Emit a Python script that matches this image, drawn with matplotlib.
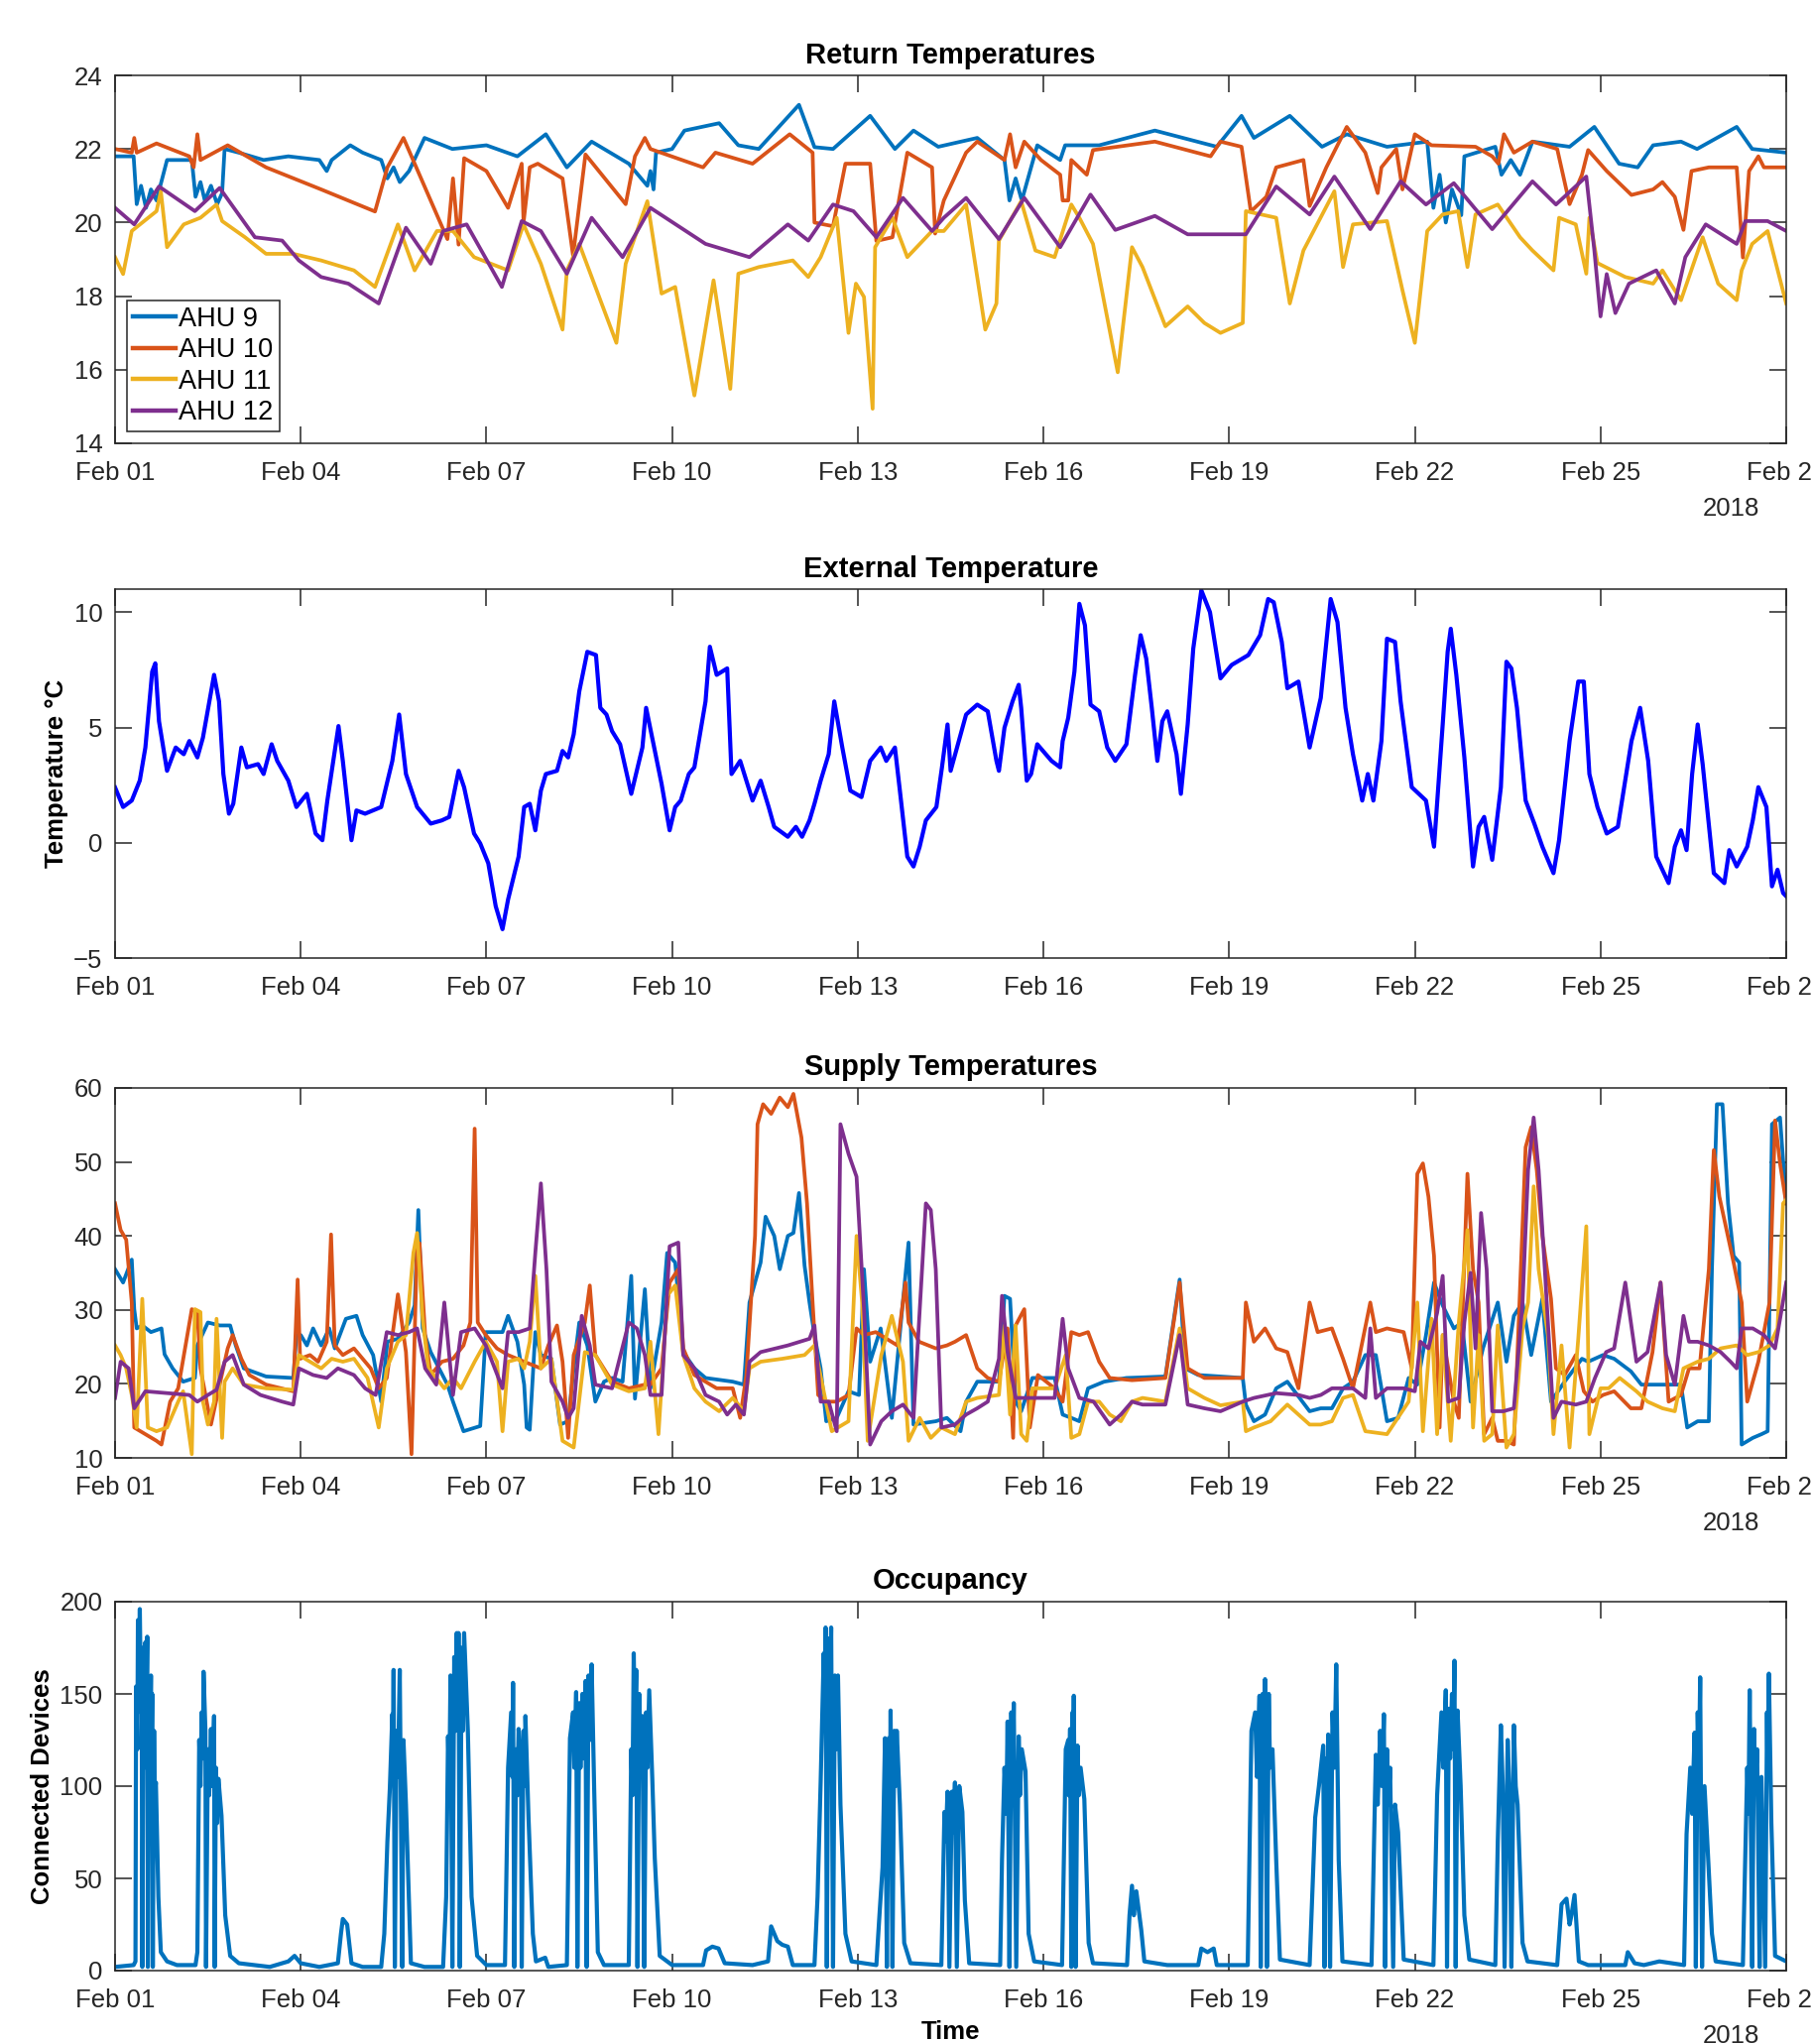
import numpy as np
import matplotlib
matplotlib.use("Agg")
import matplotlib.pyplot as plt
import matplotlib.dates as mdates
from datetime import datetime

plt.rcParams['font.family'] = ['Liberation Sans', 'DejaVu Sans']

# ---- donnees (temps en jours depuis le 1er fevrier 2018) ----
t_ret9 = [0, 0.3, 0.35, 0.42, 0.5, 0.58, 0.67, 0.84, 1.0, 1.24, 1.3, 1.38, 1.45, 1.55, 1.65, 1.73, 1.77, 2.0, 2.4, 2.8,
          3.3, 3.42, 3.5, 3.8, 4.0, 4.3, 4.4, 4.5, 4.6, 4.75, 5.0, 5.45, 6.0, 6.5, 6.96, 7.3, 7.7, 8.3, 8.6, 8.65,
          8.7, 8.74, 9.0, 9.2, 9.76, 10.07, 10.4, 11.05, 11.3, 11.6, 12.2, 12.6, 12.9, 13.3, 13.93, 14.37, 14.45,
          14.55, 14.65, 14.9, 15.27, 15.35, 15.9, 16.8, 17.8, 18.2, 18.4, 18.98, 19.5, 19.9, 20.55, 21.2, 21.3,
          21.4, 21.5, 21.6, 21.75, 21.8, 22.3, 22.4, 22.55, 22.7, 22.9, 23.5, 23.9, 24.3, 24.6, 24.85, 25.3,
          25.56, 26.2, 26.45, 27.0]
ahu9_ret = [21.8, 21.8, 20.5, 21.0, 20.4, 20.9, 20.6, 21.7, 21.7, 21.7, 20.7, 21.1, 20.6, 21.0, 20.5, 20.8, 22.0,
            21.9, 21.7, 21.8, 21.7, 21.4, 21.7, 22.1, 21.9, 21.7, 21.2, 21.5, 21.1, 21.4, 22.3, 22.0, 22.1, 21.8,
            22.4, 21.5, 22.2, 21.6, 21.0, 21.4, 20.9, 21.9, 22.0, 22.5, 22.7, 22.1, 22.0, 23.2, 22.05, 22.0, 22.9,
            22.0, 22.5, 22.06, 22.3, 21.7, 20.6, 21.2, 20.6, 22.1, 21.7, 22.1, 22.1, 22.5, 22.06, 22.9, 22.3, 22.9,
            22.06, 22.4, 22.06, 22.2, 20.4, 21.3, 20.0, 20.9, 20.2, 21.8, 22.06, 21.3, 21.7, 21.3, 22.2, 22.06,
            22.6, 21.6, 21.5, 22.1, 22.2, 22.0, 22.6, 22.0, 21.9]

t_ret10 = [0, 0.27, 0.31, 0.35, 0.67, 1.2, 1.27, 1.33, 1.38, 1.82, 2.44, 3.33, 4.2, 4.4, 4.66, 5.37, 5.46, 5.55,
           5.64, 6.0, 6.35, 6.57, 6.6, 6.7, 6.83, 7.23, 7.4, 7.6, 8.25, 8.4, 8.56, 8.65, 9.5, 9.7, 10.3, 10.9,
           11.27, 11.3, 11.6, 11.8, 12.2, 12.3, 12.56, 12.8, 13.2, 13.25, 13.39, 13.75, 13.93, 14.37, 14.46, 14.55,
           14.69, 14.96, 15.27, 15.31, 15.4, 15.45, 15.7, 15.8, 16.8, 17.7, 17.86, 18.2, 18.35, 18.6, 18.76, 19.2,
           19.3, 19.57, 19.9, 20.2, 20.4, 20.46, 20.7, 20.8, 21.0, 21.27, 21.98, 22.25, 22.35, 22.44, 22.6, 22.9,
           23.3, 23.5, 23.7, 23.8, 24.1, 24.5, 24.85, 25.0, 25.2, 25.34, 25.47, 25.75, 26.2, 26.3, 26.4, 26.55,
           26.64, 27.0]
ahu10_ret = [22.0, 21.9, 22.3, 21.9, 22.15, 21.8, 21.5, 22.4, 21.7, 22.1, 21.5, 20.9, 20.3, 21.5, 22.3, 19.55,
             21.2, 19.4, 21.75, 21.4, 20.4, 21.6, 20.0, 21.5, 21.6, 21.2, 19.1, 21.85, 20.5, 21.8, 22.3, 22.0, 21.5,
             21.9, 21.6, 22.4, 21.9, 20.0, 19.9, 21.6, 21.6, 19.5, 19.6, 21.9, 21.5, 19.7, 20.6, 21.9, 22.2, 21.7,
             22.4, 21.5, 22.2, 21.7, 21.3, 20.6, 20.6, 21.7, 21.3, 21.97, 22.2, 21.8, 22.2, 22.06, 20.3, 20.7, 21.5,
             21.7, 20.45, 21.5, 22.6, 21.9, 20.8, 21.5, 22.0, 20.9, 22.4, 22.1, 22.06, 21.8, 21.6, 22.4, 21.9, 22.2,
             22.0, 20.5, 21.3, 21.97, 21.4, 20.75, 20.9, 21.1, 20.7, 19.8, 21.4, 21.5, 21.5, 19.05, 21.4, 21.8,
             21.5, 21.5]

t_ret11 = [0, 0.13, 0.27, 0.67, 0.74, 0.84, 1.11, 1.38, 1.64, 1.73, 2.1, 2.44, 2.88, 3.33, 3.86, 4.2, 4.57, 4.84,
           5.2, 5.46, 5.8, 6.35, 6.6, 6.88, 7.23, 7.3, 7.5, 8.1, 8.25, 8.6, 8.83, 9.05, 9.36, 9.67, 9.94, 10.07,
           10.4, 10.95, 11.2, 11.4, 11.66, 11.85, 11.97, 12.1, 12.24, 12.28, 12.56, 12.8, 13.2, 13.39, 13.75, 14.06,
           14.24, 14.28, 14.64, 14.87, 15.18, 15.45, 15.58, 15.8, 16.2, 16.43, 16.6, 16.97, 17.33, 17.6, 17.86,
           18.22, 18.27, 18.76, 18.98, 19.2, 19.7, 19.84, 20.0, 20.55, 20.8, 21.0, 21.2, 21.45, 21.7, 21.85, 21.98,
           22.34, 22.7, 22.9, 23.24, 23.33, 23.6, 23.77, 23.82, 23.95, 24.4, 24.85, 25.0, 25.3, 25.65, 25.9, 26.2,
           26.28, 26.45, 26.7, 27.0]
ahu11_ret = [19.06, 18.6, 19.77, 20.31, 20.85, 19.33, 19.95, 20.13, 20.49, 20.04, 19.6, 19.15, 19.15, 18.97, 18.7,
             18.25, 19.95, 18.7, 19.77, 19.77, 19.06, 18.7, 19.95, 18.88, 17.09, 18.7, 19.42, 16.73, 18.88, 20.58,
             18.07, 18.25, 15.3, 18.43, 15.48, 18.61, 18.79, 18.97, 18.52, 19.06, 20.13, 17.0, 18.34, 17.98, 14.94,
             19.33, 20.13, 19.06, 19.77, 19.77, 20.49, 17.09, 17.8, 19.51, 20.58, 19.24, 19.06, 20.49, 20.13, 19.42,
             15.93, 19.33, 18.79, 17.18, 17.72, 17.27, 17.0, 17.27, 20.31, 20.13, 17.8, 19.24, 20.85, 18.79, 19.95,
             20.04, 18.16, 16.73, 19.77, 20.22, 20.31, 18.79, 20.22, 20.49, 19.6, 19.24, 18.7, 20.13, 19.95, 18.61,
             20.13, 18.9, 18.52, 18.34, 18.7, 17.89, 19.6, 18.34, 17.89, 18.7, 19.42, 19.77, 17.8]

t_ret12 = [0, 0.31, 0.71, 1.29, 1.69, 2.26, 2.7, 2.97, 3.33, 3.77, 4.26, 4.7, 5.1, 5.3, 5.68, 6.25, 6.57, 6.88, 7.3,
           7.7, 8.2, 8.65, 9.54, 10.25, 10.87, 11.2, 11.6, 11.93, 12.3, 12.73, 13.2, 13.39, 13.75, 14.28, 14.69,
           15.27, 15.76, 16.16, 16.8, 17.33, 18.27, 18.76, 19.3, 19.7, 20.28, 20.77, 21.18, 21.63, 22.25, 22.9,
           23.28, 23.77, 23.9, 24.0, 24.1, 24.24, 24.46, 24.9, 25.2, 25.37, 25.7, 26.2, 26.34, 26.7, 27.0]
ahu12_ret = [20.4, 19.95, 20.98, 20.31, 20.94, 19.6, 19.51, 18.97, 18.52, 18.34, 17.8, 19.86, 18.88, 19.77, 19.95,
             18.25, 20.04, 19.77, 18.61, 20.13, 19.06, 20.4, 19.42, 19.06, 19.95, 19.51, 20.49, 20.31, 19.6, 20.67,
             19.77, 20.13, 20.67, 19.55, 20.67, 19.33, 20.76, 19.8, 20.18, 19.68, 19.68, 20.98, 20.22, 21.25, 19.82,
             21.12, 20.49, 21.07, 19.82, 21.12, 20.49, 21.25, 19.24, 17.45, 18.6, 17.54, 18.34, 18.7, 17.8, 19.06,
             19.95, 19.42, 20.04, 20.04, 19.77]

t_ext = [0, 0.13, 0.27, 0.4, 0.49, 0.6, 0.65, 0.71, 0.84, 0.98, 1.11, 1.2, 1.33, 1.42, 1.6, 1.68, 1.75, 1.84, 1.91,
         2.04, 2.13, 2.31, 2.4, 2.53, 2.62, 2.8, 2.93, 3.1, 3.24, 3.35, 3.43, 3.61, 3.68, 3.82, 3.9, 4.04, 4.3, 4.48,
         4.59, 4.7, 4.88, 5.1, 5.28, 5.4, 5.55, 5.64, 5.8, 5.9, 6.03, 6.15, 6.26, 6.35, 6.52, 6.61, 6.7, 6.79, 6.88,
         6.96, 7.14, 7.23, 7.32, 7.41, 7.5, 7.63, 7.77, 7.84, 7.94, 8.03, 8.16, 8.34, 8.52, 8.58, 8.7, 8.83, 8.96,
         9.05, 9.14, 9.27, 9.36, 9.54, 9.61, 9.72, 9.89, 9.96, 10.1, 10.3, 10.43, 10.56, 10.65, 10.87, 11.0, 11.1,
         11.22, 11.3, 11.4, 11.53, 11.62, 11.75, 11.88, 12.06, 12.2, 12.37, 12.46, 12.6, 12.68, 12.8, 12.9, 13.0,
         13.1, 13.27, 13.36, 13.45, 13.5, 13.75, 13.93, 14.1, 14.24, 14.28, 14.37, 14.5, 14.6, 14.64, 14.73, 14.8,
         14.9, 15.13, 15.27, 15.31, 15.4, 15.5, 15.58, 15.67, 15.76, 15.9, 16.03, 16.16, 16.34, 16.48, 16.57, 16.66,
         16.75, 16.84, 16.92, 17.0, 17.15, 17.22, 17.33, 17.42, 17.55, 17.69, 17.86, 18.04, 18.31, 18.5, 18.63,
         18.72, 18.85, 18.94, 19.12, 19.3, 19.48, 19.64, 19.75, 19.88, 20.0, 20.15, 20.24, 20.33, 20.46, 20.55,
         20.68, 20.77, 20.95, 21.18, 21.31, 21.45, 21.53, 21.58, 21.67, 21.8, 21.94, 22.03, 22.12, 22.25, 22.39,
         22.48, 22.56, 22.65, 22.79, 22.93, 23.06, 23.24, 23.33, 23.5, 23.64, 23.73, 23.82, 23.95, 24.1, 24.28,
         24.5, 24.64, 24.77, 24.9, 25.1, 25.2, 25.3, 25.39, 25.48, 25.57, 25.65, 25.83, 26.0, 26.08, 26.2, 26.37,
         26.46, 26.55, 26.68, 26.77, 26.86, 26.95, 27.0]
ext_temp = [2.4, 1.55, 1.83, 2.7, 4.13, 7.42, 7.78, 5.27, 3.12, 4.13, 3.84, 4.41, 3.7, 4.56, 7.28, 6.13, 2.98, 1.26,
            1.69, 4.13, 3.27, 3.41, 2.98, 4.27, 3.55, 2.69, 1.55, 2.12, 0.4, 0.11, 1.83, 5.06, 3.55, 0.11, 1.4, 1.26,
            1.55, 3.55, 5.56, 2.98, 1.55, 0.83, 0.97, 1.12, 3.12, 2.4, 0.4, -0.03, -0.89, -2.75, -3.75, -2.46, -0.6,
            1.55, 1.69, 0.54, 2.26, 2.98, 3.12, 3.98, 3.7, 4.7, 6.56, 8.28, 8.14, 5.85, 5.56, 4.84, 4.27, 2.12, 4.13,
            5.85, 4.27, 2.55, 0.54, 1.55, 1.83, 2.98, 3.27, 6.13, 8.5, 7.28, 7.56, 2.98, 3.55, 1.83, 2.69, 1.55, 0.69,
            0.26, 0.69, 0.26, 0.97, 1.69, 2.69, 3.84, 6.13, 4.13, 2.26, 1.98, 3.55, 4.13, 3.55, 4.13, 2.26, -0.6,
            -1.03, -0.17, 0.97, 1.55, 3.27, 5.13, 3.12, 5.56, 5.99, 5.7, 3.55, 3.12, 4.99, 6.13, 6.85, 5.85, 2.69,
            2.98, 4.27, 3.55, 3.27, 4.41, 5.42, 7.42, 10.36, 9.43, 5.99, 5.7, 4.13, 3.55, 4.27, 7.28, 9.0, 7.99, 5.85,
            3.55, 5.27, 5.7, 3.84, 2.12, 5.13, 8.42, 10.95, 10.0, 7.13, 7.71, 8.14, 9.0, 10.57, 10.43, 8.71, 6.7,
            6.99, 4.13, 6.28, 10.57, 9.57, 5.85, 3.84, 1.83, 2.98, 1.83, 4.41, 8.85, 8.71, 6.13, 2.41, 1.83, -0.17,
            5.13, 8.28, 9.28, 7.28, 3.7, -1.03, 0.69, 1.12, -0.74, 2.41, 7.85, 7.56, 5.85, 1.83, 0.83, -0.17, -1.32,
            0.11, 4.41, 6.99, 6.99, 2.98, 1.55, 0.4, 0.69, 4.41, 5.85, 3.55, -0.6, -1.75, -0.17, 0.54, -0.32, 2.98,
            5.13, 3.41, -1.32, -1.75, -0.32, -1.03, -0.17, 0.97, 2.41, 1.55, -1.89, -1.17, -2.18, -2.32]

sup9 = [(0, 35.5), (0.13, 33.7), (0.27, 36.8), (0.31, 30.1), (0.35, 27.5), (0.44, 27.9), (0.58, 27.0), (0.75, 27.5),
        (0.8, 24.0), (0.93, 22.1), (1.1, 20.3), (1.29, 20.8), (1.33, 25.2), (1.5, 28.3), (1.69, 27.9), (1.86, 27.9),
        (1.95, 25.2), (2.08, 22.1), (2.44, 21.0), (2.88, 20.8), (2.93, 26.6), (3.0, 26.6), (3.1, 25.2), (3.2, 27.5),
        (3.33, 25.2), (3.46, 27.5), (3.55, 24.8), (3.73, 28.8), (3.9, 29.2), (4.0, 26.6), (4.17, 23.9), (4.3, 17.6),
        (4.4, 25.7), (4.57, 26.1), (4.75, 28.3), (4.84, 30.6), (4.9, 43.5), (4.97, 27.5), (5.1, 24.3), (5.37, 19.9),
        (5.46, 17.6), (5.63, 13.6), (5.9, 14.3), (5.99, 27.0), (6.26, 27.0), (6.35, 29.2), (6.5, 25.7), (6.61, 19.9),
        (6.65, 14.1), (6.7, 13.8), (6.79, 27.0), (6.88, 23.9), (7.05, 23.4), (7.19, 14.5), (7.32, 14.95), (7.41, 22.1),
        (7.5, 28.3), (7.63, 25.2), (7.76, 17.6), (7.9, 20.3), (8.03, 20.8), (8.2, 20.3), (8.34, 34.6), (8.4, 18.0),
        (8.56, 32.8), (8.65, 19.4), (8.83, 28.3), (8.92, 37.7), (9.05, 36.4), (9.18, 24.3), (9.36, 22.1), (9.54, 20.8),
        (9.98, 20.3), (10.16, 19.9), (10.25, 31.0), (10.43, 36.4), (10.51, 42.6), (10.65, 40.0), (10.74, 35.5),
        (10.87, 40.0), (10.96, 40.4), (11.05, 45.8), (11.14, 36.0), (11.22, 31.0), (11.3, 26.6), (11.4, 22.1),
        (11.49, 14.95), (11.66, 15.4), (11.85, 19.0), (12.02, 18.5), (12.1, 35.5), (12.2, 23.0), (12.37, 27.5),
        (12.55, 15.4), (12.82, 39.1), (12.9, 14.5), (13.26, 14.95), (13.44, 15.4), (13.66, 13.6), (13.75, 17.6),
        (13.93, 20.3), (14.28, 20.3), (14.37, 31.9), (14.46, 31.5), (14.55, 17.6), (14.64, 16.3), (14.82, 20.8),
        (15.18, 20.8), (15.31, 15.85), (15.45, 15.4), (15.58, 14.95), (15.72, 19.4), (15.98, 20.3), (16.34, 20.8),
        (16.97, 21.0), (17.2, 34.1), (17.29, 22.1), (17.5, 21.2), (18.22, 20.8), (18.27, 17.2), (18.4, 14.95),
        (18.58, 15.85), (18.76, 19.4), (18.94, 20.3), (19.3, 16.3), (19.48, 16.7), (19.66, 16.7), (19.84, 19.4),
        (20.0, 20.3), (20.2, 23.9), (20.37, 23.9), (20.55, 14.95), (20.73, 15.4), (20.9, 20.8), (21.04, 19.9),
        (21.18, 26.6), (21.31, 33.7), (21.45, 30.6), (21.63, 27.5), (21.76, 28.3), (21.9, 17.6), (22.1, 24.8),
        (22.34, 31.0), (22.48, 23.0), (22.6, 29.2), (22.74, 31.0), (22.88, 23.9), (23.06, 31.5), (23.2, 17.6),
        (23.42, 20.3), (23.7, 23.4), (23.8, 23.0), (24.04, 23.9), (24.22, 23.4), (24.49, 21.7), (24.66, 19.9),
        (25.0, 19.9), (25.3, 19.9), (25.4, 14.1), (25.57, 14.95), (25.75, 14.95), (25.8, 35.5), (25.88, 57.8),
        (25.97, 57.8), (26.06, 44.4), (26.15, 37.3), (26.24, 36.4), (26.28, 11.8), (26.46, 12.7), (26.6, 13.2),
        (26.7, 13.6), (26.77, 55.1), (26.9, 56.0), (27.0, 44.4)]

sup10 = [(0, 44.4), (0.09, 40.8), (0.18, 39.5), (0.27, 31.0), (0.31, 14.1), (0.49, 13.2), (0.67, 12.3), (0.75, 11.8),
         (0.89, 17.6), (1.02, 19.4), (1.24, 30.1), (1.33, 29.7), (1.38, 22.1), (1.55, 14.5), (1.69, 19.9), (1.82, 24.8),
         (1.9, 26.6), (2.04, 23.4), (2.17, 21.2), (2.44, 19.9), (2.88, 19.0), (2.95, 34.1), (2.99, 23.4), (3.15, 23.9),
         (3.28, 23.0), (3.42, 25.7), (3.49, 40.2), (3.55, 25.2), (3.68, 23.9), (3.86, 24.8), (4.13, 22.1), (4.26, 19.4),
         (4.39, 20.8), (4.57, 32.1), (4.7, 24.3), (4.79, 10.5), (4.88, 39.0), (4.92, 39.0), (5.01, 26.6), (5.1, 21.2),
         (5.28, 23.0), (5.46, 23.4), (5.63, 25.2), (5.74, 28.3), (5.81, 54.5), (5.86, 28.3), (5.99, 26.6),
         (6.17, 24.8), (6.35, 23.9), (6.61, 23.0), (6.88, 22.1), (7.0, 25.2), (7.14, 27.9), (7.23, 23.0), (7.32, 12.7),
         (7.41, 23.9), (7.59, 28.3), (7.67, 33.3), (7.76, 23.9), (8.03, 20.3), (8.3, 19.4), (8.56, 19.9), (8.65, 19.9),
         (8.83, 22.1), (8.96, 33.7), (9.1, 35.5), (9.18, 24.8), (9.36, 21.2), (9.72, 19.4), (9.98, 19.4), (10.1, 15.4),
         (10.2, 21.2), (10.34, 40.0), (10.38, 55.1), (10.47, 57.8), (10.6, 56.5), (10.74, 58.7), (10.87, 57.4),
         (10.96, 59.2), (11.09, 53.3), (11.18, 44.4), (11.27, 31.0), (11.36, 18.5), (11.49, 17.6), (11.66, 17.6),
         (11.85, 18.5), (11.98, 27.5), (12.1, 26.6), (12.29, 27.0), (12.64, 25.2), (12.77, 33.7), (12.82, 28.3),
         (12.99, 25.7), (13.26, 24.8), (13.44, 25.2), (13.57, 25.7), (13.75, 26.6), (13.93, 22.1), (14.1, 20.8),
         (14.28, 20.3), (14.42, 27.5), (14.51, 12.7), (14.55, 27.9), (14.69, 30.1), (14.78, 14.1), (14.91, 21.2),
         (15.18, 19.4), (15.31, 17.6), (15.45, 27.0), (15.58, 26.6), (15.72, 27.0), (15.9, 23.0), (16.07, 20.8),
         (16.43, 20.5), (16.97, 20.8), (17.2, 33.7), (17.33, 22.1), (17.6, 20.8), (18.22, 20.8), (18.27, 31.0),
         (18.4, 25.7), (18.58, 27.5), (18.76, 24.8), (18.94, 24.3), (19.12, 19.4), (19.3, 31.0), (19.43, 27.0),
         (19.66, 27.5), (19.84, 23.4), (20.0, 19.4), (20.28, 31.0), (20.37, 27.0), (20.55, 27.5), (20.82, 27.0),
         (20.95, 22.1), (21.04, 48.4), (21.13, 49.8), (21.22, 45.3), (21.31, 37.3), (21.4, 14.1), (21.45, 26.6),
         (21.63, 17.6), (21.71, 15.4), (21.85, 48.4), (21.94, 35.5), (22.03, 31.0), (22.12, 13.2), (22.25, 15.4),
         (22.34, 12.3), (22.48, 12.3), (22.6, 11.8), (22.79, 52.0), (22.88, 54.7), (22.97, 48.9), (23.06, 40.0),
         (23.2, 31.5), (23.28, 22.1), (23.42, 21.2), (23.6, 23.9), (23.73, 19.0), (23.87, 17.6), (24.04, 18.5),
         (24.22, 19.0), (24.49, 16.7), (24.66, 16.7), (24.84, 24.3), (24.97, 33.7), (25.1, 17.6), (25.3, 18.5),
         (25.43, 22.1), (25.6, 22.1), (25.75, 35.5), (25.83, 51.6), (25.92, 45.3), (26.0, 42.2), (26.15, 36.4),
         (26.28, 31.0), (26.37, 17.6), (26.55, 23.0), (26.73, 31.0), (26.82, 55.6), (26.9, 49.8), (27.0, 44.4)]

sup11 = [(0, 25.2), (0.09, 23.9), (0.18, 22.1), (0.27, 18.5), (0.35, 14.1), (0.44, 31.5), (0.53, 14.1), (0.67, 13.6),
         (0.84, 14.1), (1.02, 17.6), (1.1, 19.0), (1.24, 10.5), (1.29, 30.1), (1.38, 29.7), (1.42, 17.6), (1.5, 14.5),
         (1.6, 17.6), (1.64, 28.8), (1.73, 12.7), (1.77, 20.3), (1.9, 22.1), (2.08, 19.9), (2.44, 19.4), (2.88, 19.2),
         (2.97, 23.9), (3.15, 23.0), (3.33, 22.1), (3.5, 23.4), (3.68, 23.0), (3.86, 23.4), (4.08, 20.8), (4.26, 14.1),
         (4.39, 22.1), (4.57, 25.7), (4.7, 26.6), (4.82, 37.7), (4.88, 40.4), (4.97, 28.8), (5.06, 22.1), (5.19, 20.8),
         (5.32, 19.4), (5.46, 20.8), (5.59, 19.4), (5.81, 23.0), (5.99, 25.7), (6.17, 23.0), (6.26, 13.6), (6.35, 23.0),
         (6.52, 23.4), (6.61, 22.1), (6.7, 25.7), (6.79, 34.6), (6.88, 22.1), (7.05, 23.4), (7.23, 12.3), (7.41, 11.4),
         (7.59, 24.3), (7.76, 23.9), (8.03, 19.9), (8.3, 19.0), (8.56, 19.4), (8.65, 25.7), (8.78, 13.2), (8.92, 31.9),
         (9.05, 33.3), (9.18, 23.9), (9.36, 19.4), (9.54, 17.6), (9.76, 16.3), (9.98, 18.1), (10.16, 16.3),
         (10.25, 22.1), (10.43, 23.0), (10.78, 23.4), (11.14, 23.9), (11.3, 25.2), (11.58, 13.6), (11.85, 14.95),
         (11.98, 40.0), (12.07, 31.0), (12.16, 12.3), (12.38, 23.9), (12.55, 29.2), (12.73, 23.0), (12.82, 12.3),
         (13.0, 15.4), (13.18, 12.7), (13.35, 14.1), (13.57, 13.2), (13.75, 17.6), (13.93, 18.1), (14.28, 18.5),
         (14.37, 27.9), (14.46, 15.85), (14.55, 27.9), (14.64, 13.2), (14.73, 12.3), (14.82, 19.4), (15.18, 19.4),
         (15.36, 23.9), (15.45, 12.7), (15.58, 13.2), (15.72, 17.6), (15.9, 17.6), (16.07, 15.85), (16.25, 14.95),
         (16.43, 17.6), (16.6, 18.1), (16.97, 17.6), (17.2, 27.5), (17.33, 19.4), (17.6, 18.1), (17.86, 17.1),
         (18.22, 17.6), (18.27, 13.6), (18.4, 14.1), (18.67, 14.95), (18.94, 17.2), (19.3, 14.5), (19.48, 14.5),
         (19.66, 14.95), (19.84, 18.1), (20.0, 18.5), (20.2, 13.6), (20.55, 13.2), (20.9, 17.6), (21.04, 31.0),
         (21.13, 13.6), (21.27, 28.8), (21.36, 13.2), (21.45, 26.6), (21.58, 12.3), (21.71, 28.3), (21.85, 40.8),
         (21.94, 14.1), (22.03, 26.6), (22.12, 12.3), (22.25, 13.2), (22.34, 27.9), (22.48, 11.4), (22.6, 13.2),
         (22.74, 27.5), (22.83, 31.0), (22.92, 46.7), (23.0, 35.5), (23.15, 26.6), (23.24, 13.2), (23.37, 25.2),
         (23.5, 11.4), (23.64, 26.1), (23.77, 41.3), (23.82, 13.2), (24.0, 19.4), (24.13, 19.4), (24.31, 20.8),
         (24.58, 19.0), (24.76, 17.6), (25.0, 16.7), (25.2, 16.3), (25.34, 22.1), (25.57, 23.0), (25.75, 23.4),
         (25.94, 24.8), (26.2, 25.2), (26.37, 23.9), (26.55, 24.3), (26.73, 25.2), (26.86, 27.5), (26.95, 44.4),
         (27.0, 44.9)]

sup12 = [(0, 18.1), (0.09, 23.0), (0.22, 22.1), (0.31, 16.7), (0.49, 19.0), (0.84, 18.75), (1.2, 18.5), (1.33, 17.6),
         (1.5, 18.5), (1.64, 19.2), (1.77, 23.0), (1.9, 23.9), (2.08, 19.9), (2.35, 18.5), (2.7, 17.6), (2.88, 17.2),
         (2.97, 22.1), (3.2, 21.2), (3.42, 20.8), (3.6, 22.1), (3.86, 21.2), (4.04, 19.4), (4.21, 18.5), (4.39, 27.0),
         (4.57, 26.6), (4.75, 27.0), (4.88, 27.5), (5.01, 22.1), (5.19, 19.9), (5.32, 31.0), (5.46, 18.5),
         (5.59, 27.0), (5.81, 27.5), (5.99, 25.2), (6.26, 19.4), (6.35, 27.0), (6.52, 27.0), (6.7, 27.5), (6.79, 37.7),
         (6.88, 47.1), (6.97, 35.5), (7.05, 20.3), (7.23, 17.6), (7.32, 15.4), (7.41, 16.7), (7.54, 29.2),
         (7.67, 25.2), (7.76, 19.9), (8.03, 19.4), (8.3, 28.3), (8.43, 27.5), (8.56, 23.9), (8.65, 18.5), (8.83, 18.5),
         (8.96, 38.6), (9.1, 39.1), (9.18, 23.9), (9.36, 22.1), (9.54, 18.5), (9.76, 17.6), (9.89, 15.85),
         (10.03, 17.2), (10.16, 15.85), (10.25, 23.0), (10.43, 24.3), (10.87, 25.2), (11.22, 26.1), (11.3, 27.9),
         (11.4, 17.6), (11.53, 17.6), (11.66, 13.6), (11.72, 55.1), (11.85, 51.1), (11.98, 48.0), (12.1, 30.1),
         (12.2, 11.8), (12.38, 14.95), (12.55, 16.3), (12.73, 17.2), (12.9, 15.4), (13.1, 44.4), (13.18, 43.5),
         (13.26, 35.5), (13.35, 14.1), (13.57, 14.5), (13.75, 15.85), (13.93, 16.7), (14.1, 17.6), (14.28, 23.4),
         (14.33, 31.9), (14.42, 24.3), (14.55, 18.1), (14.73, 18.1), (15.18, 18.1), (15.31, 28.8), (15.4, 22.1),
         (15.58, 18.1), (15.81, 17.6), (16.07, 14.5), (16.25, 15.85), (16.43, 17.6), (16.6, 17.2), (16.97, 17.2),
         (17.2, 26.6), (17.33, 17.2), (17.6, 16.7), (17.86, 16.3), (18.22, 17.6), (18.4, 18.1), (18.76, 18.75),
         (19.12, 18.5), (19.3, 18.1), (19.48, 18.5), (19.66, 19.4), (20.0, 19.4), (20.2, 18.1), (20.28, 27.5),
         (20.37, 18.1), (20.55, 19.4), (20.82, 19.4), (21.0, 19.0), (21.09, 25.7), (21.22, 24.8), (21.36, 29.6),
         (21.45, 34.6), (21.54, 17.6), (21.71, 18.1), (21.8, 28.3), (21.9, 35.0), (21.98, 24.8), (22.07, 43.1),
         (22.16, 35.5), (22.25, 16.3), (22.43, 16.3), (22.6, 16.7), (22.74, 31.0), (22.83, 48.9), (22.92, 56.0),
         (23.0, 48.9), (23.1, 35.5), (23.24, 15.4), (23.37, 17.6), (23.6, 17.2), (23.77, 17.6), (23.91, 20.8),
         (24.09, 24.3), (24.22, 24.8), (24.4, 33.7), (24.58, 23.0), (24.76, 24.3), (24.97, 33.7), (25.06, 23.9),
         (25.2, 19.9), (25.34, 29.2), (25.43, 25.7), (25.57, 25.7), (25.75, 25.2), (25.94, 24.3), (26.1, 23.0),
         (26.2, 22.1), (26.28, 27.5), (26.46, 27.5), (26.64, 26.6), (26.82, 24.8), (27.0, 33.7)]

occupancy = [(0, 2), (0.3, 3), (0.33, 5), (0.34, 154), (0.36, 120), (0.37, 190), (0.38, 150), (0.4, 196),
             (0.42, 140), (0.43, 175), (0.44, 2), (0.46, 150), (0.47, 110), (0.49, 178), (0.5, 130), (0.52, 181),
             (0.53, 2), (0.55, 155), (0.56, 120), (0.58, 160), (0.59, 115), (0.6, 150), (0.61, 2), (0.63, 130),
             (0.64, 95), (0.66, 102), (0.7, 40), (0.74, 10), (0.84, 5), (1.0, 3), (1.3, 3), (1.33, 10), (1.36, 125),
             (1.38, 100), (1.4, 140), (1.42, 115), (1.43, 162), (1.46, 130), (1.47, 2), (1.5, 120), (1.52, 95),
             (1.55, 131), (1.57, 100), (1.6, 138), (1.61, 2), (1.63, 110), (1.65, 80), (1.67, 104), (1.72, 84),
             (1.78, 30), (1.86, 8), (2.0, 4), (2.5, 2), (2.8, 5), (2.9, 8), (3.0, 4), (3.3, 2), (3.6, 4), (3.65, 20),
             (3.68, 28), (3.75, 25), (3.82, 4), (4.0, 2), (4.3, 2), (4.35, 20), (4.4, 70), (4.44, 99), (4.48, 139),
             (4.49, 110), (4.5, 163), (4.52, 2), (4.55, 130), (4.57, 105), (4.6, 163), (4.64, 2), (4.66, 125),
             (4.7, 90), (4.78, 4), (5.0, 2), (5.3, 2), (5.35, 40), (5.38, 127), (5.4, 100), (5.42, 160), (5.45, 2),
             (5.48, 170), (5.5, 130), (5.52, 183), (5.54, 140), (5.55, 183), (5.57, 2), (5.6, 175), (5.62, 130),
             (5.64, 183), (5.7, 130), (5.76, 40), (5.85, 8), (6.0, 3), (6.3, 3), (6.35, 110), (6.4, 140),
             (6.42, 105), (6.43, 156), (6.45, 2), (6.48, 120), (6.5, 95), (6.52, 131), (6.56, 111), (6.57, 2),
             (6.6, 130), (6.62, 100), (6.63, 138), (6.68, 83), (6.75, 20), (6.8, 5), (6.95, 7), (7.0, 2), (7.3, 3),
             (7.35, 126), (7.4, 140), (7.42, 110), (7.45, 151), (7.47, 2), (7.5, 145), (7.52, 110), (7.55, 150),
             (7.57, 115), (7.6, 157), (7.62, 2), (7.65, 160), (7.67, 125), (7.7, 166), (7.74, 100), (7.8, 10),
             (7.9, 3), (8.3, 3), (8.34, 120), (8.36, 95), (8.38, 172), (8.4, 130), (8.42, 163), (8.44, 2),
             (8.47, 150), (8.49, 115), (8.52, 138), (8.55, 2), (8.58, 140), (8.6, 110), (8.63, 152), (8.68, 104),
             (8.72, 61), (8.8, 8), (9.0, 3), (9.5, 3), (9.55, 11), (9.65, 13), (9.75, 12), (9.85, 4), (10.3, 3),
             (10.55, 5), (10.6, 24), (10.7, 16), (10.78, 14), (10.87, 13), (10.95, 3), (11.3, 3), (11.35, 40),
             (11.4, 102), (11.45, 172), (11.46, 140), (11.48, 186), (11.5, 2), (11.53, 180), (11.55, 140),
             (11.57, 186), (11.6, 2), (11.63, 160), (11.65, 120), (11.68, 160), (11.72, 90), (11.8, 20), (11.9, 5),
             (12.3, 3), (12.35, 30), (12.4, 56), (12.44, 126), (12.47, 2), (12.5, 126), (12.52, 95), (12.53, 141),
             (12.56, 2), (12.59, 130), (12.61, 100), (12.63, 130), (12.68, 90), (12.75, 15), (12.85, 4), (13.35, 3),
             (13.4, 86), (13.42, 70), (13.45, 97), (13.48, 2), (13.52, 97), (13.54, 75), (13.57, 102), (13.6, 2),
             (13.64, 100), (13.69, 86), (13.73, 38), (13.8, 4), (14.3, 3), (14.33, 60), (14.37, 110), (14.4, 85),
             (14.42, 135), (14.45, 2), (14.48, 140), (14.5, 105), (14.52, 145), (14.56, 2), (14.6, 127), (14.62, 95),
             (14.65, 120), (14.71, 108), (14.76, 20), (14.85, 5), (15.3, 3), (15.36, 120), (15.4, 125), (15.41, 95),
             (15.43, 131), (15.45, 2), (15.47, 140), (15.48, 110), (15.49, 149), (15.52, 2), (15.55, 122),
             (15.57, 95), (15.6, 110), (15.66, 93), (15.73, 15), (15.8, 4), (16.35, 3), (16.39, 30), (16.43, 46),
             (16.46, 30), (16.5, 43), (16.58, 22), (16.63, 5), (17.0, 3), (17.5, 3), (17.55, 12), (17.65, 10),
             (17.75, 12), (17.8, 3), (18.3, 3), (18.36, 130), (18.42, 140), (18.45, 105), (18.49, 149), (18.51, 2),
             (18.54, 150), (18.56, 120), (18.58, 158), (18.61, 2), (18.64, 150), (18.66, 110), (18.7, 120),
             (18.76, 60), (18.82, 6), (19.3, 3), (19.39, 83), (19.45, 100), (19.52, 122), (19.54, 2), (19.57, 115),
             (19.58, 85), (19.6, 128), (19.63, 2), (19.67, 140), (19.7, 110), (19.73, 166), (19.77, 60), (19.83, 5),
             (20.3, 3), (20.37, 117), (20.4, 90), (20.44, 130), (20.47, 100), (20.5, 139), (20.52, 2), (20.55, 120),
             (20.57, 90), (20.6, 110), (20.65, 2), (20.68, 90), (20.73, 75), (20.82, 6), (21.3, 3), (21.36, 95),
             (21.43, 140), (21.46, 110), (21.5, 152), (21.52, 2), (21.55, 142), (21.57, 115), (21.6, 150),
             (21.62, 120), (21.64, 168), (21.66, 2), (21.69, 141), (21.74, 100), (21.8, 30), (21.88, 6), (22.3, 3),
             (22.34, 70), (22.39, 133), (22.42, 100), (22.45, 2), (22.5, 125), (22.53, 95), (22.56, 2), (22.6, 133),
             (22.63, 100), (22.66, 90), (22.74, 15), (22.82, 5), (23.3, 3), (23.37, 36), (23.45, 39), (23.5, 25),
             (23.53, 30), (23.58, 41), (23.65, 5), (23.8, 3), (24.4, 3), (24.44, 10), (24.55, 4), (24.7, 3),
             (24.95, 5), (25.35, 3), (25.39, 74), (25.45, 110), (25.48, 85), (25.52, 129), (25.54, 2), (25.57, 140),
             (25.59, 110), (25.61, 159), (25.64, 2), (25.68, 100), (25.74, 60), (25.8, 20), (25.86, 5), (26.3, 3),
             (26.37, 110), (26.39, 85), (26.41, 152), (26.45, 2), (26.48, 131), (26.5, 100), (26.53, 120),
             (26.57, 2), (26.6, 105), (26.66, 2), (26.69, 140), (26.7, 110), (26.72, 161), (26.76, 80), (26.82, 8),
             (27.0, 5)]

ahu_labels = ['AHU 9', 'AHU 10', 'AHU 11', 'AHU 12']
colors = ['#0072BD', '#D95319', '#EDB120', '#7E2F8E']

# ---- trace ----
t0 = mdates.date2num(datetime(2018, 2, 1))
grey = '#262626'
fs = 18.5
lw = 2.7

fig = plt.figure(figsize=(18.27, 20.61), dpi=100)
W, H = 1827.0, 2061.0
left, width = 116 / W, 1685 / W
tops = [76, 594, 1097, 1615]
bots = [447, 966, 1470, 1987]
axs = [fig.add_axes([left, 1 - b / H, width, (b - t) / H]) for t, b in zip(tops, bots)]


def td(lst):
    return t0 + np.asarray(lst, dtype=float)


for ax in axs:
    for s in ax.spines.values():
        s.set_color(grey)
        s.set_linewidth(1.1)
    ax.tick_params(direction='in', length=12, width=1.1, colors=grey, labelsize=fs,
                   top=True, right=True)
    ax.tick_params(axis='x', pad=13)
    ax.tick_params(axis='y', pad=9)
    ax.xaxis.set_major_locator(mdates.DayLocator(bymonthday=range(1, 29, 3)))
    ax.xaxis.set_major_formatter(mdates.DateFormatter('%b %d'))
    ax.set_xlim(t0, t0 + 27)

# Return temperatures
ax = axs[0]
for tt, vv, c, lab in zip([t_ret9, t_ret10, t_ret11, t_ret12], [ahu9_ret, ahu10_ret, ahu11_ret, ahu12_ret],
                          colors, ahu_labels):
    ax.plot(td(tt), vv, color=c, lw=lw, label=lab)
ax.set_ylim(14, 24)
ax.set_yticks(range(14, 25, 2))
ax.set_title('Return Temperatures', fontsize=21, fontweight='bold', pad=9)
leg = ax.legend(loc='lower left', bbox_to_anchor=(0.007, 0.032), borderaxespad=0, fontsize=19.5,
                handlelength=1.6, handletextpad=0.12, labelspacing=0.2, borderpad=0.22, fancybox=False,
                framealpha=1, edgecolor=grey)
leg.get_frame().set_linewidth(1.1)
for h in leg.get_lines():
    h.set_linewidth(3.2)

# External temperature
ax = axs[1]
ax.plot(td(t_ext), ext_temp, color='#0000FF', lw=lw + 0.3)
ax.set_ylim(-5, 11)
ax.set_yticks([-5, 0, 5, 10])
ax.set_title('External Temperature', fontsize=21, fontweight='bold', pad=9)
ax.set_ylabel('Temperature °C', fontsize=fs, fontweight='bold', labelpad=4)

# Supply temperatures
ax = axs[2]
for data, c in zip([sup9, sup10, sup11, sup12], colors):
    arr = np.array(data)
    ax.plot(t0 + arr[:, 0], arr[:, 1], color=c, lw=lw)
ax.set_ylim(10, 60)
ax.set_yticks(range(10, 61, 10))
ax.set_title('Supply Temperatures', fontsize=21, fontweight='bold', pad=9)

# Occupancy
ax = axs[3]
occ = np.array(occupancy)
ax.plot(t0 + occ[:, 0], occ[:, 1], color='#0072BD', lw=lw + 0.3)
ax.set_ylim(0, 200)
ax.set_yticks(range(0, 201, 50))
ax.set_title('Occupancy', fontsize=21, fontweight='bold', pad=9)
ax.set_ylabel('Connected Devices', fontsize=fs, fontweight='bold', labelpad=4)
ax.set_xlabel('Time', fontsize=fs, fontweight='bold', labelpad=6)

# annee sous l'axe des temps
for ax in (axs[0], axs[2], axs[3]):
    ax.annotate('2018', xy=(0.9668, 0), xycoords='axes fraction', xytext=(0, -66 * 0.72),
                textcoords='offset points', ha='center', va='center', fontsize=fs, color=grey)

fig.savefig('out.png', dpi=100)
